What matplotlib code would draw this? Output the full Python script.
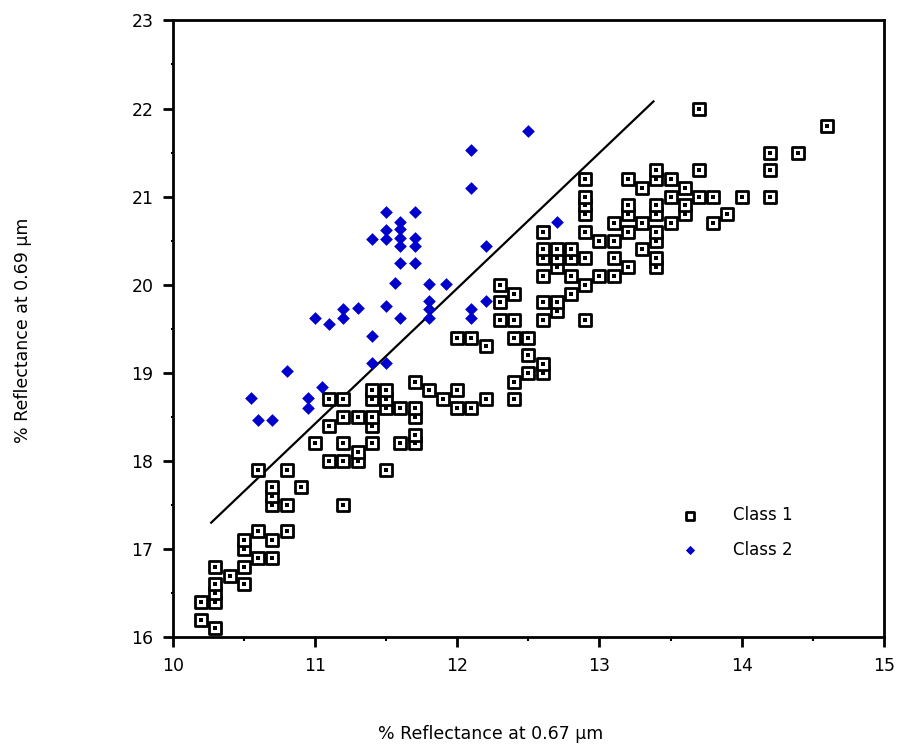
import numpy as np
import matplotlib
matplotlib.use('Agg')
import matplotlib.pyplot as plt
from matplotlib.ticker import MultipleLocator

# class 1 samples (hollow squares)
class1_x = [10.2, 10.2, 10.3, 10.3, 10.3, 10.3, 10.3, 10.4, 10.5, 10.5, 10.5, 10.5,
            10.6, 10.6, 10.6, 10.7, 10.7, 10.7, 10.7, 10.7, 10.8, 10.8, 10.8, 10.9,
            11.0, 11.1, 11.1, 11.1, 11.2, 11.2, 11.2, 11.2, 11.2, 11.3, 11.3, 11.3,
            11.4, 11.4, 11.4, 11.4, 11.4, 11.5, 11.5, 11.5, 11.5, 11.6, 11.6,
            11.7, 11.7, 11.7, 11.7, 11.7, 11.8, 11.9, 12.0, 12.0, 12.0, 12.1, 12.1,
            12.2, 12.2, 12.3, 12.3, 12.3, 12.4, 12.4, 12.4, 12.4, 12.4,
            12.5, 12.5, 12.5, 12.6, 12.6, 12.6, 12.6, 12.6, 12.6, 12.6, 12.6,
            12.7, 12.7, 12.7, 12.7, 12.7, 12.8, 12.8, 12.8, 12.8,
            12.9, 12.9, 12.9, 12.9, 12.9, 12.9, 12.9, 12.9, 13.0, 13.0,
            13.1, 13.1, 13.1, 13.1, 13.2, 13.2, 13.2, 13.2, 13.2, 13.3, 13.3, 13.3,
            13.4, 13.4, 13.4, 13.4, 13.4, 13.4, 13.4, 13.4, 13.5, 13.5, 13.5,
            13.6, 13.6, 13.6, 13.7, 13.7, 13.7, 13.8, 13.8, 13.9, 14.0,
            14.2, 14.2, 14.2, 14.4, 14.6]
class1_y = [16.4, 16.2, 16.1, 16.4, 16.5, 16.6, 16.8, 16.7, 16.6, 16.8, 17.0, 17.1,
            16.9, 17.2, 17.9, 16.9, 17.1, 17.5, 17.6, 17.7, 17.2, 17.5, 17.9, 17.7,
            18.2, 18.0, 18.4, 18.7, 17.5, 18.0, 18.2, 18.5, 18.7, 18.0, 18.1, 18.5,
            18.2, 18.4, 18.5, 18.7, 18.8, 17.9, 18.6, 18.7, 18.8, 18.2, 18.6,
            18.2, 18.3, 18.5, 18.6, 18.9, 18.8, 18.7, 18.6, 18.8, 19.4, 18.6, 19.4,
            18.7, 19.3, 19.6, 19.8, 20.0, 18.7, 18.9, 19.4, 19.6, 19.9,
            19.0, 19.2, 19.4, 19.0, 19.1, 19.6, 19.8, 20.1, 20.3, 20.4, 20.6,
            19.7, 19.8, 20.2, 20.3, 20.4, 19.9, 20.1, 20.3, 20.4,
            19.6, 20.0, 20.3, 20.6, 20.8, 20.9, 21.0, 21.2, 20.1, 20.5,
            20.1, 20.3, 20.5, 20.7, 20.2, 20.6, 20.8, 20.9, 21.2, 20.4, 20.7, 21.1,
            20.2, 20.3, 20.5, 20.6, 20.8, 20.9, 21.2, 21.3, 20.7, 21.0, 21.2,
            20.8, 20.9, 21.1, 21.0, 21.3, 22.0, 20.7, 21.0, 20.8, 21.0,
            21.0, 21.3, 21.5, 21.5, 21.8]

# class 2 samples (blue diamonds)
class2_x = [10.55, 10.6, 10.7, 10.8, 10.95, 10.95, 11.05, 11.0, 11.1, 11.2, 11.2, 11.3,
            11.4, 11.4, 11.4, 11.5, 11.5, 11.5, 11.5, 11.5, 11.56,
            11.6, 11.6, 11.6, 11.6, 11.6, 11.6, 11.7, 11.7, 11.7, 11.7,
            11.8, 11.8, 11.8, 11.8, 11.92, 12.1, 12.1, 12.1, 12.1, 12.2, 12.2,
            12.5, 12.7]
class2_y = [18.72, 18.47, 18.47, 19.02, 18.72, 18.6, 18.84, 19.62, 19.55, 19.72, 19.62, 19.74,
            20.52, 19.42, 19.11, 19.11, 19.76, 20.83, 20.62, 20.52, 20.02,
            20.71, 20.63, 20.53, 20.44, 20.25, 19.62, 20.83, 20.53, 20.44, 20.25,
            20.01, 19.82, 19.73, 19.62, 20.01, 21.53, 21.1, 19.73, 19.62, 20.44, 19.81,
            21.74, 20.71]

# separating line end points
line_x = [10.27, 13.38]
line_y = [17.3, 22.08]

plt.rcParams['font.family'] = ['DejaVu Sans']

fig = plt.figure(figsize=(9, 7.55), dpi=100)
ax = fig.add_axes([0.192, 0.156, 0.790, 0.817])

ax.plot(line_x, line_y, color='black', lw=1.6, zorder=2)

ax.scatter(class1_x, class1_y, marker='s', s=64, facecolor='white',
           edgecolor='black', linewidth=2.0, zorder=3)
ax.scatter(class1_x, class1_y, marker='s', s=5, color='black', linewidth=0, zorder=4)
ax.scatter(class2_x, class2_y, marker='D', s=42, color='#0000cc', linewidth=0, zorder=5)

# legend proxies
h1 = ax.scatter([], [], marker='s', s=30, facecolor='white', edgecolor='black', linewidth=2.0)
h2 = ax.scatter([], [], marker='D', s=22, color='#0000cc', linewidth=0)
ax.legend([h1, h2], ['Class 1', 'Class 2'], loc='center left',
          bbox_to_anchor=(0.683, 0.17), frameon=False, fontsize=12,
          handletextpad=1.6, labelspacing=1.0, scatterpoints=1)

ax.set_xlim(10, 15)
ax.set_ylim(16, 23)
ax.xaxis.set_major_locator(MultipleLocator(1))
ax.xaxis.set_minor_locator(MultipleLocator(0.5))
ax.yaxis.set_major_locator(MultipleLocator(1))
ax.yaxis.set_minor_locator(MultipleLocator(0.5))
ax.tick_params(which='major', direction='out', length=7, width=2, labelsize=12.5, pad=7)
ax.tick_params(which='minor', direction='out', length=3, width=1.5)
ax.tick_params(axis='y', which='minor', length=1.5)
for sp in ax.spines.values():
    sp.set_linewidth(2)

fig.text(0.545, 0.016, '% Reflectance at 0.67 \u00b5m', ha='center', va='bottom', fontsize=12.5)
fig.text(0.026, 0.563, '% Reflectance at 0.69 \u00b5m', ha='center', va='center',
         rotation=90, fontsize=12.5)

fig.savefig('out.png', dpi=100)
